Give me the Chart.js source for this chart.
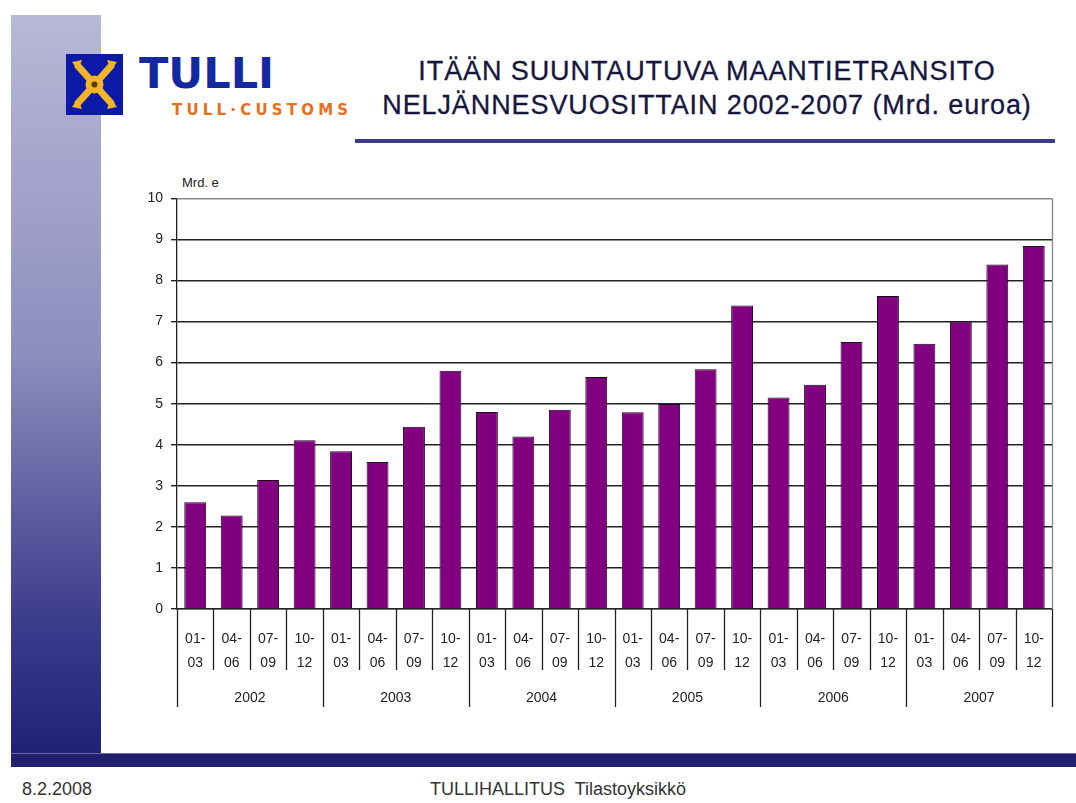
<!DOCTYPE html>
<html>
<head>
<meta charset="utf-8">
<script src="https://cdn.jsdelivr.net/npm/chart.js@4.4.0/dist/chart.umd.min.js"></script>
<style>
    body { margin: 0; width: 1076px; height: 803px; overflow: hidden; background: #fff; font-family: 'Liberation Sans', Arial, sans-serif; position: relative; }
    .strip { position: absolute; left: 11px; top: 15px; width: 90px; height: 750px; background: linear-gradient(to bottom, #b8b8d8 0%, #8e8ebe 45%, #3e3e8e 80%, #1e1e76 100%); }
    .band { position: absolute; left: 11px; top: 753px; width: 1065px; height: 13px; background: #20206e; border-top: 1px solid #6a6aa8; }
    .logo { position: absolute; left: 66px; top: 54px; width: 57px; height: 61px; background: #0b1aa6; }
    .tulli { position: absolute; left: 139px; top: 48px; font: bold 43px 'DejaVu Sans', sans-serif; color: #1428a0; }
    .customs { position: absolute; left: 172px; top: 101px; font: bold 15px 'DejaVu Sans', sans-serif; color: #e8701a; letter-spacing: 4.2px; }
    .title { position: absolute; left: 352px; top: 54px; width: 710px; text-align: center; font-size: 27px; line-height: 34px; letter-spacing: 0.9px; color: #16163e; -webkit-text-stroke: 0.3px #16163e; }
    .rule { position: absolute; left: 355px; top: 139px; width: 700px; height: 4px; background: #3a3a8c; }
    .unit { position: absolute; left: 182px; top: 175px; font-size: 13px; color: #222; }
    .footer { position: absolute; top: 779px; font: 18px 'Liberation Sans Narrow', 'Liberation Sans', Arial, sans-serif; color: #333; white-space: pre; }
    .chartBox { position: absolute; left: 100px; top: 182px; width: 976px; height: 528px; }
</style>
</head>
<body>
<div class="strip"></div>
<div class="band"></div>
<div class="logo">
    <svg width="57" height="61" viewBox="0 0 57 61">
        <g stroke="#f2b428" stroke-width="7" stroke-linecap="round">
            <line x1="12" y1="12" x2="45" y2="49"/>
            <line x1="45" y1="12" x2="12" y2="49"/>
        </g>
        <circle cx="28.5" cy="30.5" r="9" fill="#f2b428"/>
        <path d="M6 8 L16 6 L12 16 Z M51 8 L41 6 L45 16 Z M6 53 L16 55 L12 45 Z M51 53 L41 55 L45 45 Z" fill="#f2b428"/>
        <circle cx="28.5" cy="30.5" r="3" fill="#5a3a10"/>
    </svg>
</div>
<div class="tulli">TULLI</div>
<div class="customs">TULL·CUSTOMS</div>
<div class="title">ITÄÄN SUUNTAUTUVA MAANTIETRANSITO<br>NELJÄNNESVUOSITTAIN 2002-2007 (Mrd. euroa)</div>
<div class="rule"></div>
<div class="unit">Mrd. e</div>
<div class="chartBox"><canvas id="transitChart"></canvas></div>
<div class="footer" style="left:22px">8.2.2008</div>
<div class="footer" style="left:430px">TULLIHALLITUS  Tilastoyksikkö</div>

<script>
const years = ['2002', '2003', '2004', '2005', '2006', '2007'];
const quarters = [['01-', '03'], ['04-', '06'], ['07-', '09'], ['10-', '12']];
const transitValues = [
    2.60, 2.28, 3.14, 4.11,
    3.84, 3.58, 4.44, 5.80,
    4.80, 4.20, 4.85, 5.65,
    4.79, 4.99, 5.84, 7.39,
    5.15, 5.46, 6.50, 7.62,
    6.46, 7.00, 8.39, 8.84
];
const yTicks = [0, 1, 2, 3, 4, 5, 6, 7, 8, 9, 10];

const quarterLabels = years.flatMap(() => quarters);
const tickFont = {family: "'Liberation Sans', Arial, sans-serif", size: 14};

// separator lines under the category axis (quarters short, years long)
const separators = {
    id: 'separators',
    afterDraw(chart) {
        const {ctx, chartArea} = chart;
        const x = chart.scales.x;
        const x2 = chart.scales.x2;
        const n = quarterLabels.length;
        const step = (x.right - x.left) / n;
        ctx.save();
        ctx.strokeStyle = '#222';
        ctx.lineWidth = 1.3;
        for (let i = 0; i <= n; i++) {
            const px = Math.round(x.left + i * step) + 0.5;
            ctx.beginPath();
            ctx.moveTo(px, x.top);
            ctx.lineTo(px, i % quarters.length === 0 ? x2.bottom - 3 : x.bottom);
            ctx.stroke();
        }
        ctx.strokeStyle = '#888';
        ctx.beginPath();
        ctx.moveTo(chartArea.right + 0.5, chartArea.top);
        ctx.lineTo(chartArea.right + 0.5, chartArea.bottom);
        ctx.stroke();
        ctx.restore();
    }
};

const ctx = document.getElementById('transitChart').getContext('2d');
new Chart(ctx, {
    type: 'bar',
    data: {
        labels: quarterLabels,
        datasets: [{
            label: 'Mrd. e',
            data: transitValues,
            backgroundColor: '#800080',
            borderColor: '#1a001a',
            borderWidth: 1,
            barPercentage: 0.6,
            categoryPercentage: 1
        }]
    },
    options: {
        responsive: true,
        maintainAspectRatio: false,
        animation: false,
        layout: {padding: {top: 9, right: 24, bottom: 0, left: 0}},
        plugins: {legend: {display: false}, tooltip: {enabled: false}},
        scales: {
            x: {
                type: 'category',
                offset: true,
                grid: {display: false},
                border: {display: true, color: '#222', width: 1.3},
                ticks: {color: '#222', font: {...tickFont, lineHeight: 1.65}, padding: 11, maxRotation: 0, autoSkip: false},
                afterFit: scale => { scale.height = 61; }
            },
            x2: {
                type: 'category',
                labels: years,
                position: 'bottom',
                offset: true,
                grid: {display: false},
                border: {display: false},
                ticks: {color: '#222', font: tickFont, padding: 12, maxRotation: 0},
                afterFit: scale => { scale.height = 40; }
            },
            y: {
                min: 0,
                max: 10,
                afterBuildTicks: scale => { scale.ticks = yTicks.map(v => ({value: v})); },
                grid: {
                    color: c => c.tick && c.tick.value === 10 ? '#888' : '#222',
                    lineWidth: 1.4,
                    tickLength: 6,
                    tickColor: '#222'
                },
                border: {display: true, color: '#222', width: 1.3},
                ticks: {color: '#222', font: tickFont, padding: 8},
                afterFit: scale => { scale.width = 77; }
            }
        }
    },
    plugins: [separators]
});
</script>
</body>
</html>
